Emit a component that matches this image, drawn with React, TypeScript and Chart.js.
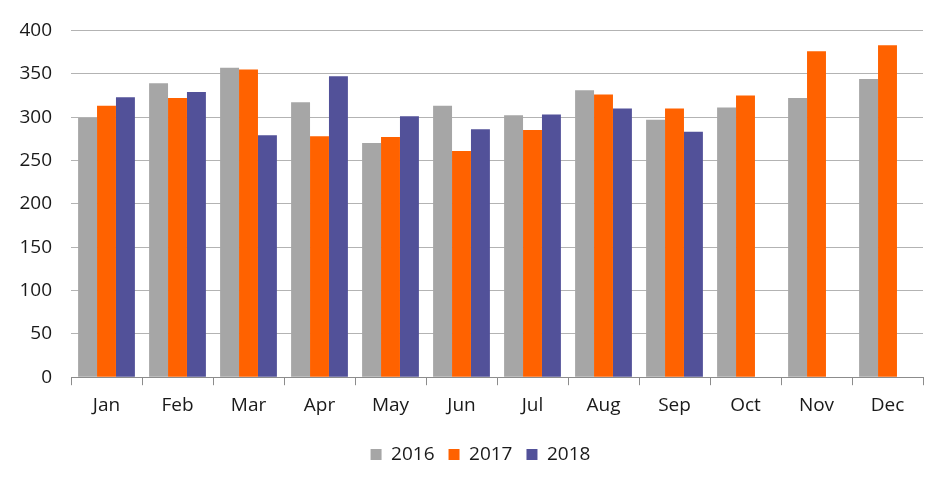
import React, { useEffect, useRef } from "react";
import { Chart, registerables } from "chart.js";

Chart.register(...registerables);

const months = ["Jan", "Feb", "Mar", "Apr", "May", "Jun", "Jul", "Aug", "Sep", "Oct", "Nov", "Dec"];
const series2016 = [299, 339, 357, 317, 270, 313, 302, 331, 297, 311, 322, 344];
const series2017 = [313, 322, 355, 278, 277, 261, 285, 326, 310, 325, 376, 383];
const series2018: (number | null)[] = [323, 329, 279, 347, 301, 286, 303, 310, 283, null, null, null];
const yTicks = [0, 50, 100, 150, 200, 250, 300, 350, 400];

const FONT = "'Open Sans', 'Noto Sans', sans-serif";

const shiftLegend = {
  id: "shiftLegend",
  afterLayout(chart: any) {
    const lg = chart.legend;
    if (lg) {
      lg.left += 19;
      lg.right += 19;
    }
  },
};

export default function App() {
  const ref = useRef<HTMLCanvasElement | null>(null);
  useEffect(() => {
    if (!ref.current) return;
    const chart = new Chart(ref.current, {
      type: "bar",
      data: {
        labels: months,
        datasets: [
          { label: "2016", data: series2016, backgroundColor: "#A6A6A6" },
          { label: "2017", data: series2017, backgroundColor: "#FF6200" },
          { label: "2018", data: series2018, backgroundColor: "#525199" },
        ],
      },
      plugins: [shiftLegend],
      options: {
        animation: false,
        responsive: true,
        maintainAspectRatio: false,
        datasets: { bar: { categoryPercentage: 0.8, barPercentage: 1.0 } },
        layout: { padding: { left: 0, right: 29, top: 27, bottom: 17 } },
        plugins: {
          tooltip: { enabled: false },
          legend: {
            position: "bottom",
            labels: {
              boxWidth: 11,
              boxHeight: 11,
              padding: 14,
              color: "#1a1a1a",
              font: { family: FONT, size: 19 },
            },
          },
        },
        scales: {
          x: {
            offset: true,
            afterFit: (scale: any) => {
              scale.height += 5;
            },
            grid: {
              offset: true,
              drawOnChartArea: false,
              drawTicks: true,
              tickLength: 8,
              color: "#8c8c8c",
            },
            border: { display: true, color: "#8c8c8c", width: 1 },
            ticks: { color: "#1a1a1a", padding: 9, font: { family: FONT, size: 19 } },
          },
          y: {
            min: 0,
            max: 400,
            afterFit: (scale: any) => {
              scale.width = 71;
            },
            afterBuildTicks: (scale: any) => {
              scale.ticks = yTicks.map((v) => ({ value: v }));
            },
            grid: { drawTicks: false, color: "#b3b3b3", lineWidth: 1 },
            border: { display: false },
            ticks: { color: "#1a1a1a", padding: 19, font: { family: FONT, size: 19 } },
          },
        },
      },
    });
    return () => chart.destroy();
  }, []);
  return (
    <div style={{ position: "fixed", left: 0, top: 0, width: 952, height: 491, background: "#fff" }}>
      <canvas ref={ref} />
    </div>
  );
}
